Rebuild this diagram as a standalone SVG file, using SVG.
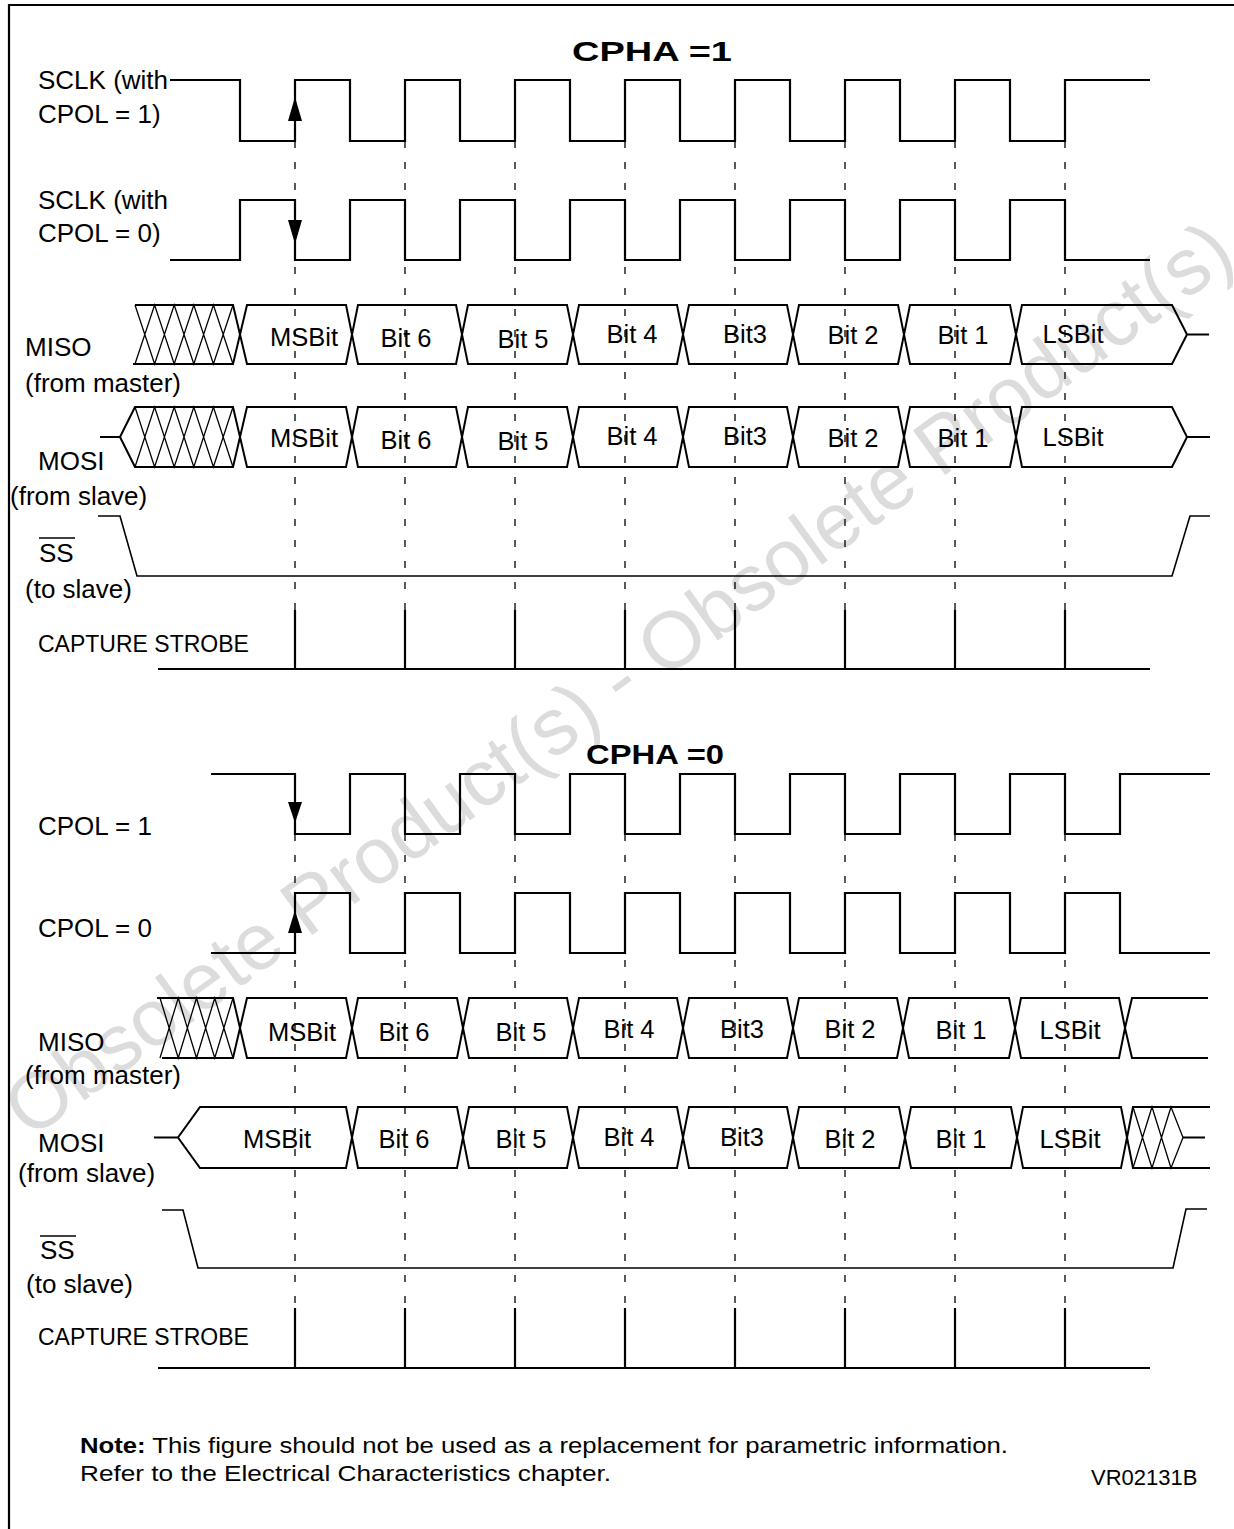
<svg xmlns="http://www.w3.org/2000/svg" width="1234" height="1529" viewBox="0 0 1234 1529">
<style>
  .bg { fill: #ffffff; }
  .wm { font-family: "Liberation Sans", Arial, sans-serif; font-size: 80px; fill: #dcdcdc; }
  .frame { stroke: #000; stroke-width: 2.2; fill: none; }
  .clk { stroke: #000; stroke-width: 2.2; fill: none; stroke-linejoin: miter; }
  .bus { stroke: #000; stroke-width: 2; fill: none; stroke-linejoin: miter; }
  .hatch { stroke: #000; stroke-width: 1.3; fill: none; }
  .ss { stroke: #000; stroke-width: 1.6; fill: none; }
  .dash { stroke: #000; stroke-width: 1.3; stroke-dasharray: 7 14; fill: none; }
  .strobe { stroke: #000; stroke-width: 2.2; fill: none; }
  .arrow { fill: #000; stroke: none; }
  .lbl { font-family: "Liberation Sans", Arial, sans-serif; font-size: 26px; fill: #000; }
  .bit { font-family: "Liberation Sans", Arial, sans-serif; font-size: 25.5px; fill: #000; text-anchor: middle; }
  .cap { font-family: "Liberation Sans", Arial, sans-serif; font-size: 23px; fill: #000; }
  .title { font-family: "Liberation Sans", Arial, sans-serif; font-size: 28px; font-weight: bold; fill: #000; }
  .note { font-family: "Liberation Sans", Arial, sans-serif; font-size: 22px; fill: #000; }
</style>
<rect class="bg" x="0" y="0" width="1234" height="1529"/>

<g id="watermark">
  <text class="wm" transform="translate(30,1140) rotate(-36)">Obsolete Product(s) - Obsolete Product(s)</text>
</g>

<g id="frame">
  <path class="frame" d="M9,1529 V5 H1234"/>
</g>

<g id="titles">
  <text class="title" x="572" y="61" textLength="160" lengthAdjust="spacingAndGlyphs">CPHA =1</text>
  <text class="title" x="586" y="764" textLength="138" lengthAdjust="spacingAndGlyphs">CPHA =0</text>
</g>

<g id="connectors">
  <path class="dash" d="M295,141 V610 M405,141 V610 M515,141 V610 M625,141 V610 M735,141 V610 M845,141 V610 M955,141 V610 M1065,141 V610"/>
  <path class="dash" d="M295,834 V1308 M405,834 V1308 M515,834 V1308 M625,834 V1308 M735,834 V1308 M845,834 V1308 M955,834 V1308 M1065,834 V1308"/>
</g>

<!-- ============ CPHA = 1 ============ -->
<g id="sclk-cpol1-top">
  <text class="lbl" x="38" y="89">SCLK (with</text>
  <text class="lbl" x="38" y="123">CPOL = 1)</text>
  <path class="clk" d="M170,80 H240 V141 H295 V80 H350 V141 H405 V80 H460 V141 H515 V80 H570 V141 H625 V80 H680 V141 H735 V80 H790 V141 H845 V80 H900 V141 H955 V80 H1010 V141 H1065 V80 H1150"/>
  <polygon class="arrow" points="295,97 288,121 302,121"/>
</g>

<g id="sclk-cpol0-top">
  <text class="lbl" x="38" y="209">SCLK (with</text>
  <text class="lbl" x="38" y="242">CPOL = 0)</text>
  <path class="clk" d="M170,260 H240 V200 H295 V260 H350 V200 H405 V260 H460 V200 H515 V260 H570 V200 H625 V260 H680 V200 H735 V260 H790 V200 H845 V260 H900 V200 H955 V260 H1010 V200 H1065 V260 H1150"/>
  <polygon class="arrow" points="295,244 288,220 302,220"/>
</g>

<g id="miso-top">
  <text class="lbl" x="25" y="356">MISO</text>
  <text class="lbl" x="25" y="392">(from master)</text>
  <path class="bus" d="M135,305 H233 L240,334.5 L233,364 H133"/>
  <path class="hatch" d="M135,305 L154.6,364 L174.2,305 L193.8,364 L213.4,305 L233,364 M135,364 L154.6,305 L174.2,364 L193.8,305 L213.4,364 L233,305"/>
  <path class="bus" d="M247,305 H346 L352,334.5 L346,364 H247 L240,334.5 Z
    M358,305 H456 L462,334.5 L456,364 H358 L352,334.5 Z
    M468,305 H567 L573,334.5 L567,364 H468 L462,334.5 Z
    M579,305 H677 L683,334.5 L677,364 H579 L573,334.5 Z
    M689,305 H787 L793,334.5 L787,364 H689 L683,334.5 Z
    M799,305 H898 L904,334.5 L898,364 H799 L793,334.5 Z
    M910,305 H1010 L1016,334.5 L1010,364 H910 L904,334.5 Z
    M1022,305 H1172 L1187,334.5 L1172,364 H1022 L1016,334.5 Z
    M1187,334.5 H1209"/>
  <text class="bit" x="304" y="346">MSBit</text>
  <text class="bit" x="406" y="347">Bit 6</text>
  <text class="bit" x="523" y="348">Bit 5</text>
  <text class="bit" x="632" y="343">Bit 4</text>
  <text class="bit" x="745" y="343">Bit3</text>
  <text class="bit" x="853" y="344">Bit 2</text>
  <text class="bit" x="963" y="344">Bit 1</text>
  <text class="bit" x="1073" y="343">LSBit</text>
</g>

<g id="mosi-top">
  <text class="lbl" x="38" y="470">MOSI</text>
  <text class="lbl" x="10" y="505">(from slave)</text>
  <path class="bus" d="M100,437 H120 L135,407 H233 L240,437 L233,467 H135 L120,437"/>
  <path class="hatch" d="M135,407 L154.6,467 L174.2,407 L193.8,467 L213.4,407 L233,467 M135,467 L154.6,407 L174.2,467 L193.8,407 L213.4,467 L233,407"/>
  <path class="bus" d="M247,407 H346 L352,437 L346,467 H247 L240,437 Z
    M358,407 H456 L462,437 L456,467 H358 L352,437 Z
    M468,407 H567 L573,437 L567,467 H468 L462,437 Z
    M579,407 H677 L683,437 L677,467 H579 L573,437 Z
    M689,407 H787 L793,437 L787,467 H689 L683,437 Z
    M799,407 H898 L904,437 L898,467 H799 L793,437 Z
    M910,407 H1010 L1016,437 L1010,467 H910 L904,437 Z
    M1022,407 H1172 L1187,437 L1172,467 H1022 L1016,437 Z
    M1187,437 H1210"/>
  <text class="bit" x="304" y="447">MSBit</text>
  <text class="bit" x="406" y="449">Bit 6</text>
  <text class="bit" x="523" y="450">Bit 5</text>
  <text class="bit" x="632" y="445">Bit 4</text>
  <text class="bit" x="745" y="445">Bit3</text>
  <text class="bit" x="853" y="447">Bit 2</text>
  <text class="bit" x="963" y="447">Bit 1</text>
  <text class="bit" x="1073" y="446">LSBit</text>
</g>

<g id="ss-top">
  <text class="lbl" x="39" y="562">SS</text>
  <line x1="39" y1="538" x2="75" y2="538" stroke="#000" stroke-width="1.6"/>
  <text class="lbl" x="25" y="598">(to slave)</text>
  <path class="ss" d="M98,516 H120 L137,576 H1172 L1190,516 H1210"/>
</g>

<g id="strobe-top">
  <text class="cap" x="38" y="652">CAPTURE STROBE</text>
  <path class="strobe" d="M158,669 H1150 M295,610 V669 M405,610 V669 M515,610 V669 M625,610 V669 M735,610 V669 M845,610 V669 M955,610 V669 M1065,610 V669"/>
</g>

<!-- ============ CPHA = 0 ============ -->
<g id="sclk-cpol1-bottom">
  <text class="lbl" x="38" y="835">CPOL = 1</text>
  <path class="clk" d="M211,774 H295 V834 H350 V774 H405 V834 H460 V774 H515 V834 H570 V774 H625 V834 H680 V774 H735 V834 H790 V774 H845 V834 H900 V774 H955 V834 H1010 V774 H1065 V834 H1120 V774 H1210"/>
  <polygon class="arrow" points="295,823 288,802 302,802"/>
</g>

<g id="sclk-cpol0-bottom">
  <text class="lbl" x="38" y="937">CPOL = 0</text>
  <path class="clk" d="M211,953 H295 V893 H350 V953 H405 V893 H460 V953 H515 V893 H570 V953 H625 V893 H680 V953 H735 V893 H790 V953 H845 V893 H900 V953 H955 V893 H1010 V953 H1065 V893 H1120 V953 H1210"/>
  <polygon class="arrow" points="295,910 288,933 302,933"/>
</g>

<g id="miso-bottom">
  <text class="lbl" x="38" y="1051">MISO</text>
  <text class="lbl" x="25" y="1084">(from master)</text>
  <path class="bus" d="M157,998 H233 L240,1028 L233,1058 H162"/>
  <path class="hatch" d="M160,998 L178.25,1058 L196.5,998 L214.75,1058 L233,998 M160,1058 L178.25,998 L196.5,1058 L214.75,998 L233,1058"/>
  <path class="bus" d="M247,998 H346 L352,1028 L346,1058 H247 L240,1028 Z
    M358,998 H457 L463,1028 L457,1058 H358 L352,1028 Z
    M469,998 H567 L573,1028 L567,1058 H469 L463,1028 Z
    M579,998 H677 L683,1028 L677,1058 H579 L573,1028 Z
    M689,998 H787 L793,1028 L787,1058 H689 L683,1028 Z
    M799,998 H897 L903,1028 L897,1058 H799 L793,1028 Z
    M909,998 H1009 L1015,1028 L1009,1058 H909 L903,1028 Z
    M1021,998 H1119 L1125,1028 L1119,1058 H1021 L1015,1028 Z
    M1208,998 H1132 L1125,1028 L1132,1058 H1208"/>
  <text class="bit" x="302" y="1041">MSBit</text>
  <text class="bit" x="404" y="1041">Bit 6</text>
  <text class="bit" x="521" y="1041">Bit 5</text>
  <text class="bit" x="629" y="1038">Bit 4</text>
  <text class="bit" x="742" y="1038">Bit3</text>
  <text class="bit" x="850" y="1038">Bit 2</text>
  <text class="bit" x="961" y="1039">Bit 1</text>
  <text class="bit" x="1070" y="1039">LSBit</text>
</g>

<g id="mosi-bottom">
  <text class="lbl" x="38" y="1152">MOSI</text>
  <text class="lbl" x="18" y="1182">(from slave)</text>
  <path class="bus" d="M154,1137.5 H178 M200,1107 H346 L352,1137.5 L346,1168 H200 L178,1137.5 Z
    M358,1107 H457 L463,1137.5 L457,1168 H358 L352,1137.5 Z
    M469,1107 H567 L573,1137.5 L567,1168 H469 L463,1137.5 Z
    M579,1107 H677 L683,1137.5 L677,1168 H579 L573,1137.5 Z
    M689,1107 H787 L793,1137.5 L787,1168 H689 L683,1137.5 Z
    M799,1107 H899 L905,1137.5 L899,1168 H799 L793,1137.5 Z
    M911,1107 H1011 L1017,1137.5 L1011,1168 H911 L905,1137.5 Z
    M1023,1107 H1121 L1127,1137.5 L1121,1168 H1023 L1017,1137.5 Z
    M1210,1107 H1133 L1127,1137.5 L1133,1168 H1210
    M1183,1137.5 H1205"/>
  <path class="hatch" d="M1133,1107 L1152,1168 L1171,1107 L1183,1137.5 M1133,1168 L1152,1107 L1171,1168 L1183,1137.5"/>
  <text class="bit" x="277" y="1148">MSBit</text>
  <text class="bit" x="404" y="1148">Bit 6</text>
  <text class="bit" x="521" y="1148">Bit 5</text>
  <text class="bit" x="629" y="1146">Bit 4</text>
  <text class="bit" x="742" y="1146">Bit3</text>
  <text class="bit" x="850" y="1148">Bit 2</text>
  <text class="bit" x="961" y="1148">Bit 1</text>
  <text class="bit" x="1070" y="1148">LSBit</text>
</g>

<g id="ss-bottom">
  <text class="lbl" x="40" y="1259">SS</text>
  <line x1="40" y1="1236" x2="76" y2="1236" stroke="#000" stroke-width="1.6"/>
  <text class="lbl" x="26" y="1293">(to slave)</text>
  <path class="ss" d="M162,1210 H183 L198,1268 H1173 L1186,1209 H1207"/>
</g>

<g id="strobe-bottom">
  <text class="cap" x="38" y="1345">CAPTURE STROBE</text>
  <path class="strobe" d="M158,1368 H1150 M295,1308 V1368 M405,1308 V1368 M515,1308 V1368 M625,1308 V1368 M735,1308 V1368 M845,1308 V1368 M955,1308 V1368 M1065,1308 V1368"/>
</g>

<g id="note">
  <text class="note" x="80" y="1453" textLength="928" lengthAdjust="spacingAndGlyphs"><tspan font-weight="bold">Note:</tspan> This figure should not be used as a replacement for parametric information.</text>
  <text class="note" x="80" y="1481" textLength="531" lengthAdjust="spacingAndGlyphs">Refer to the Electrical Characteristics chapter.</text>
  <text class="note" x="1091" y="1485" font-size="21">VR02131B</text>
</g>
</svg>
